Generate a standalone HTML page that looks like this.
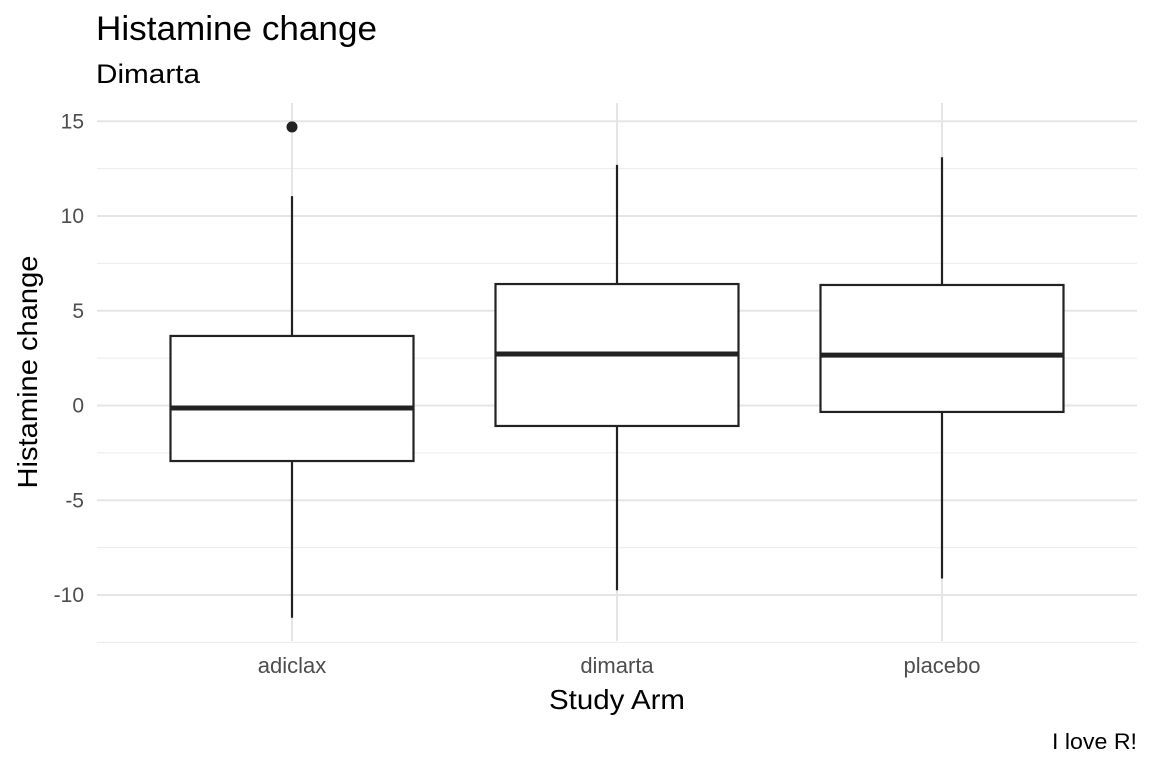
<!DOCTYPE html>
<html><head><meta charset="utf-8"><style>
body{margin:0;background:#fff;font-family:"Liberation Sans",Arial,sans-serif}
svg text{font-family:"Liberation Sans",Arial,sans-serif}
</style></head><body>
<svg id="chart" width="1152" height="768" xmlns="http://www.w3.org/2000/svg">
<rect width="1152" height="768" fill="#fff"/>
<text x="96" y="40" font-size="34" textLength="281" lengthAdjust="spacingAndGlyphs" fill="#000">Histamine change</text>
<text x="96" y="83" font-size="27" textLength="104" lengthAdjust="spacingAndGlyphs" fill="#000">Dimarta</text>
<g id="grid"></g><g id="boxes"></g><g id="axes"></g>
<text x="617" y="709" font-size="28" textLength="136" lengthAdjust="spacingAndGlyphs" text-anchor="middle" fill="#000">Study Arm</text>
<text transform="translate(37,372) rotate(-90)" font-size="28" textLength="233" lengthAdjust="spacingAndGlyphs" text-anchor="middle" fill="#000">Histamine change</text>
<text x="1137" y="749" font-size="22" textLength="85" lengthAdjust="spacingAndGlyphs" text-anchor="end" fill="#000">I love R!</text>
</svg>
<script>
const categories=["adiclax","dimarta","placebo"];
const whiskerHigh=[11.05,12.7,13.1];
const q3=[3.67,6.41,6.36];
const medians=[-0.13,2.72,2.66];
const q1=[-2.93,-1.08,-0.34];
const whiskerLow=[-11.2,-9.75,-9.13];
const outliers=[[14.7],[],[]];
const yTicks=[-10,-5,0,5,10,15];
const yMinor=[-12.5,-7.5,-2.5,2.5,7.5,12.5];
const NS="http://www.w3.org/2000/svg";
const px0=97,px1=1137,py0=103,py1=641;
const y=v=>405.5-v*18.95;
const x=i=>292+i*325;
const half=121.5;
function mk(tag,attrs,parent){const e=document.createElementNS(NS,tag);for(const k in attrs)e.setAttribute(k,attrs[k]);document.getElementById(parent).appendChild(e);return e;}
yMinor.forEach(v=>{const l=mk('line',{x1:px0,x2:px1,y1:y(v),y2:y(v),stroke:'#ebebeb','stroke-width':1},'grid');

});
yTicks.forEach(v=>{const l=mk('line',{x1:px0,x2:px1,y1:y(v),y2:y(v),stroke:'#e5e5e5','stroke-width':2},'grid');


const t=mk('text',{x:84,y:y(v)+7,'font-size':21,'text-anchor':'end',fill:'#4d4d4d'},'axes');t.textContent=v;

});
categories.forEach((c,i)=>{const l=mk('line',{x1:x(i),x2:x(i),y1:py0,y2:py1,stroke:'#e5e5e5','stroke-width':2},'grid');


const t=mk('text',{x:x(i),y:673,'font-size':22,'text-anchor':'middle',fill:'#4d4d4d'},'axes');t.textContent=c;


const w1=mk('line',{x1:x(i),x2:x(i),y1:y(whiskerHigh[i]),y2:y(q3[i]),stroke:'#222','stroke-width':2.2},'boxes');


const w2=mk('line',{x1:x(i),x2:x(i),y1:y(q1[i]),y2:y(whiskerLow[i]),stroke:'#222','stroke-width':2.2},'boxes');


const r=mk('rect',{x:x(i)-half,y:y(q3[i]),width:half*2,height:y(q1[i])-y(q3[i]),fill:'#fff',stroke:'#222','stroke-width':2.2},'boxes');


const m=mk('line',{x1:x(i)-half,x2:x(i)+half,y1:y(medians[i]),y2:y(medians[i]),stroke:'#222','stroke-width':5},'boxes');


outliers[i].forEach(o=>{const p=mk('circle',{cx:x(i),cy:y(o),r:5.5,fill:'#222'},'boxes');

});
});
</script>
</body></html>
